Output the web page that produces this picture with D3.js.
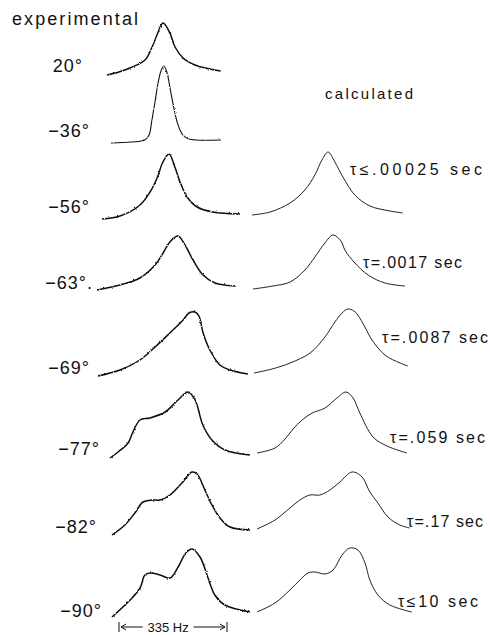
<!DOCTYPE html>
<html>
<head>
<meta charset="utf-8">
<script src="https://cdn.jsdelivr.net/npm/d3@7"></script>
<style>
  body { margin: 0; background: #fff; }
  text { font-family: "Liberation Sans", Arial, sans-serif; fill: #111; }
</style>
</head>
<body>
<div id="chart"></div>
<script>

// temperatures of the measured spectra (top to bottom)
const tempLabels = ["20°", "−36°", "−56°", "−63°.", "−69°", "−77°", "−82°", "−90°"];

// experimental traces: offset from left end of sweep (Hz) and intensity (arb. units)
const expHz = [
    [0, 37, 71, 118, 140, 155, 174, 195, 211, 236, 273, 319, 353],
    [0, 62, 105, 118, 127, 136, 146, 155, 164, 174, 183, 195, 208, 223, 242, 264, 341],
    [0, 56, 118, 149, 171, 189, 208, 226, 242, 264, 295, 344, 428],
    [0, 71, 133, 180, 205, 226, 251, 273, 298, 329, 366, 428],
    [0, 68, 130, 177, 223, 264, 282, 301, 313, 326, 347, 378, 409, 465],
    [0, 25, 56, 71, 93, 124, 171, 211, 242, 264, 288, 316, 357, 434],
    [0, 40, 71, 96, 124, 149, 180, 217, 248, 264, 288, 310, 335, 366, 428],
    [0, 56, 87, 102, 118, 149, 180, 205, 229, 248, 273, 298, 319, 350, 428]
];
const expIntensity = [
    [0, 3, 7, 15, 28, 40, 52, 42, 28, 17, 10, 6, 4],
    [0, 1, 3, 8, 23, 40, 60, 72, 77, 70, 55, 35, 18, 8, 4, 3, 3],
    [0, 3, 14, 27, 41, 57, 65, 52, 37, 22, 12, 7, 5],
    [0, 5, 12, 25, 37, 48, 54, 45, 30, 15, 7, 4],
    [0, 6, 16, 29, 43, 56, 63, 64, 60, 43, 26, 11, 6, 2],
    [0, 6, 15, 26, 38, 40, 46, 58, 66, 58, 33, 18, 8, 3],
    [0, 10, 22, 33, 35, 35, 40, 52, 63, 61, 45, 30, 17, 8, 5],
    [0, 17, 29, 42, 44, 42, 39, 50, 64, 68, 60, 39, 22, 12, 5]
];

// calculated line shapes for each exchange lifetime
const tauLabels = ["τ≤.00025 sec", "τ=.0017 sec", "τ=.0087 sec", "τ=.059 sec", "τ=.17 sec", "τ≤10 sec"];
const calcHz = [
    [0, 56, 118, 164, 195, 217, 236, 257, 282, 319, 366, 428, 468],
    [0, 62, 115, 161, 192, 223, 248, 273, 285, 316, 357, 409, 471],
    [0, 56, 112, 174, 220, 251, 273, 291, 310, 322, 344, 366, 406, 453, 477],
    [0, 56, 87, 112, 140, 171, 211, 248, 276, 298, 319, 360, 403, 465],
    [0, 56, 102, 133, 164, 195, 226, 257, 295, 326, 350, 375, 406, 443, 474],
    [0, 56, 102, 133, 158, 180, 211, 236, 264, 288, 313, 335, 350, 375, 412, 480]
];
const calcIntensity = [
    [0, 3, 12, 25, 40, 55, 63, 53, 38, 20, 9, 4, 2],
    [0, 3, 7, 19, 32, 46, 54, 48, 39, 26, 14, 6, 3],
    [0, 4, 10, 20, 36, 51, 60, 64, 62, 58, 46, 33, 18, 10, 7],
    [0, 5, 14, 24, 33, 40, 45, 55, 61, 55, 40, 16, 7, 0],
    [0, 9, 21, 29, 34, 34, 39, 47, 57, 52, 37, 26, 12, 4, 1],
    [0, 9, 22, 32, 39, 40, 38, 42, 57, 64, 62, 49, 32, 17, 7, 0]
];

const scaleBarHz = 335;

// ---- layout (left end of each trace and its baseline) ----
const width = 490, height = 635;
const expPos = [[107, 75], [111, 143], [102, 219], [97, 290], [98, 376], [110, 458], [112, 535], [112, 617]];
const tempPos = [[83, 72], [90, 137], [90, 213], [93, 289], [90, 374], [100, 455], [97, 533], [102, 617]];
const calcPos = [[252, 215], [253, 289], [254, 373], [257, 453], [257, 529], [257, 612]];
const tauPos = [[350, 175, 132], [363, 268, 99], [382, 343, 106], [390, 443, 95], [407, 527, 76], [398, 607, 80]];

const svg = d3.select("#chart").append("svg")
    .attr("width", width)
    .attr("height", height);

// slight pen jitter for the recorder traces
const defs = svg.append("defs");
const rough = defs.append("filter").attr("id", "rough")
    .attr("x", "-5%").attr("y", "-30%").attr("width", "110%").attr("height", "160%");
rough.append("feTurbulence")
    .attr("type", "fractalNoise").attr("baseFrequency", 0.9)
    .attr("numOctaves", 2).attr("seed", 4).attr("result", "noise");
rough.append("feDisplacementMap")
    .attr("in", "SourceGraphic").attr("in2", "noise")
    .attr("scale", 2.2).attr("xChannelSelector", "R").attr("yChannelSelector", "G");

let x = d3.scaleLinear().domain([0, scaleBarHz]).range([0, 108]);
let y = d3.scaleLinear().domain([0, 100]).range([0, -100]);

let line = d3.line()
    .x(d => x(d[0]))
    .y(d => y(d[1]))
    .curve(d3.curveCatmullRom.alpha(0.5));

// experimental spectra
expHz.forEach(function (hz, i) {
    let pts = hz.map((h, j) => [h, expIntensity[i][j]]);
    let g = svg.append("g")
        .attr("transform", "translate(" + expPos[i][0] + "," + expPos[i][1] + ")");
    g.append("path")
        .attr("d", line(pts))
        .attr("fill", "none")
        .attr("stroke", "#111")
        .attr("stroke-width", i === 1 ? 1.1 : 1.5)
        .attr("filter", "url(#rough)");

    svg.append("text")
        .attr("x", tempPos[i][0])
        .attr("y", tempPos[i][1])
        .attr("text-anchor", "end")
        .attr("font-size", 18)
        .attr("letter-spacing", 1)
        .text(tempLabels[i]);
});

// calculated spectra
calcHz.forEach(function (hz, i) {
    let pts = hz.map((h, j) => [h, calcIntensity[i][j]]);
    svg.append("g")
        .attr("transform", "translate(" + calcPos[i][0] + "," + calcPos[i][1] + ")")
        .append("path")
        .attr("d", line(pts))
        .attr("fill", "none")
        .attr("stroke", "#222")
        .attr("stroke-width", 1);

    svg.append("text")
        .attr("x", tauPos[i][0])
        .attr("y", tauPos[i][1])
        .attr("font-size", 16)
        .attr("textLength", tauPos[i][2])
        .attr("lengthAdjust", "spacing")
        .text(tauLabels[i]);
});

// column headings
svg.append("text")
    .attr("x", 12).attr("y", 25)
    .attr("font-size", 18)
    .attr("textLength", 126).attr("lengthAdjust", "spacing")
    .text("experimental");

svg.append("text")
    .attr("x", 325).attr("y", 99)
    .attr("font-size", 15)
    .attr("textLength", 88).attr("lengthAdjust", "spacing")
    .text("calculated");

// frequency scale bar
let barX = 119, barY = 627;
let bar = svg.append("g").attr("transform", "translate(" + barX + "," + barY + ")")
    .attr("stroke", "#111").attr("stroke-width", 1).attr("fill", "none");
bar.append("line").attr("x1", x(0)).attr("x2", x(0)).attr("y1", -5).attr("y2", 5);
bar.append("line").attr("x1", x(scaleBarHz)).attr("x2", x(scaleBarHz)).attr("y1", -5).attr("y2", 5);
bar.append("line").attr("x1", x(0) + 2).attr("x2", x(scaleBarHz) * 0.22).attr("y1", 0).attr("y2", 0);
bar.append("line").attr("x1", x(scaleBarHz) * 0.69).attr("x2", x(scaleBarHz) - 2).attr("y1", 0).attr("y2", 0);
bar.append("path").attr("d", "M" + (x(0) + 7) + ",-3L" + (x(0) + 2) + ",0L" + (x(0) + 7) + ",3");
bar.append("path").attr("d", "M" + (x(scaleBarHz) - 7) + ",-3L" + (x(scaleBarHz) - 2) + ",0L" + (x(scaleBarHz) - 7) + ",3");

svg.append("text")
    .attr("x", barX + x(scaleBarHz) * 0.455)
    .attr("y", 632)
    .attr("text-anchor", "middle")
    .attr("font-size", 13)
    .text(scaleBarHz + " Hz");

</script>
</body>
</html>
